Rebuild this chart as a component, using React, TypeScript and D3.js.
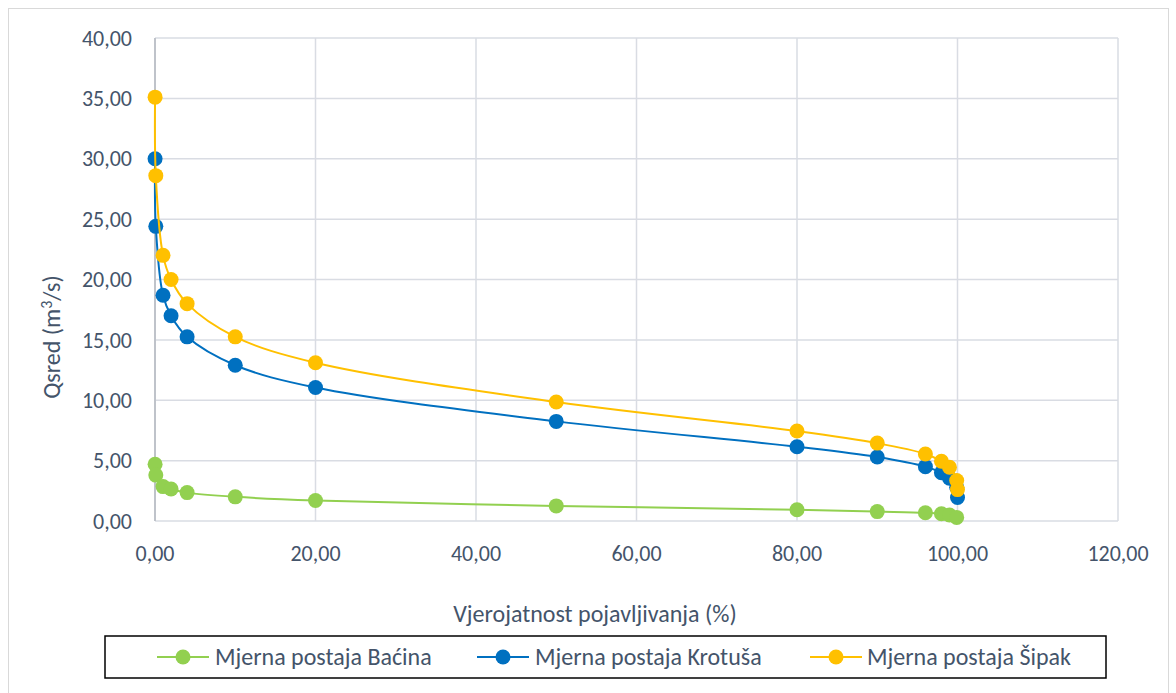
import React from "react";
import * as d3 from "d3";

const probX = [0.01, 0.1, 1, 2, 4, 10, 20, 50, 80, 90, 96, 98, 99, 99.9, 100];
const bacina = [4.7, 3.8, 2.85, 2.65, 2.35, 2.0, 1.7, 1.25, 0.93, 0.78, 0.68, 0.6, 0.5, 0.3];
const krotusa = [30.0, 24.4, 18.7, 17.0, 15.25, 12.9, 11.05, 8.25, 6.15, 5.3, 4.5, 4.0, 3.55, 2.8, 1.95];
const sipak = [35.1, 28.6, 22.0, 20.0, 18.0, 15.25, 13.1, 9.85, 7.45, 6.45, 5.55, 4.95, 4.45, 3.35, 2.6];

const xTicks = [0, 20, 40, 60, 80, 100, 120];
const yTicks = [0, 5, 10, 15, 20, 25, 30, 35, 40];

const seriesNames = ["Mjerna postaja Baćina", "Mjerna postaja Krotuša", "Mjerna postaja Šipak"];
const seriesColors = ["#92d050", "#0070c0", "#ffc000"];
const seriesValues = [bacina, krotusa, sipak];

const fmt = (v: number) => v.toFixed(2).replace(".", ",");

export default function App() {
  const W = 1176, H = 693;
  const left = 155, right = 1118, top = 38, bottom = 521;
  const x = d3.scaleLinear().domain([0, 120]).range([left, right]);
  const y = d3.scaleLinear().domain([0, 40]).range([bottom, top]);
  const font = "Carlito, Calibri, Lato, sans-serif";
  const textColor = "#44546a";

  const line = d3
    .line<[number, number]>()
    .x((d) => x(d[0]))
    .y((d) => y(d[1]))
    .curve(d3.curveCatmullRom.alpha(0.5));

  const legendItems = [
    { lx: 157, tx: 215 },
    { lx: 477, tx: 535 },
    { lx: 810, tx: 867 },
  ];

  return (
    <svg width={W} height={H} style={{ position: "absolute", left: 0, top: 0 }}>
      <rect x={8.5} y={8.5} width={1160} height={700} fill="#fff" stroke="#d9d9d9" />
      {yTicks.map((t) => (
        <line key={"gy" + t} x1={left} x2={right} y1={y(t)} y2={y(t)} stroke="#d9dce3" strokeWidth={1.5} />
      ))}
      {xTicks.map((t) => (
        <line key={"gx" + t} x1={x(t)} x2={x(t)} y1={top} y2={bottom} stroke="#d9dce3" strokeWidth={1.5} />
      ))}
      <line x1={left} x2={left} y1={top} y2={bottom} stroke="#bfc3ca" strokeWidth={2} />
      {yTicks.map((t) => (
        <text key={"ty" + t} x={132} y={y(t)} dy="0.35em" textAnchor="end" fontFamily={font} fontSize={22} fill={textColor}>
          {fmt(t)}
        </text>
      ))}
      {xTicks.map((t) => (
        <text key={"tx" + t} x={x(t)} y={553} dy="0.35em" textAnchor="middle" fontFamily={font} fontSize={22} fill={textColor}>
          {fmt(t)}
        </text>
      ))}
      <text x={595} y={622} textAnchor="middle" fontFamily={font} fontSize={24} fill={textColor}>
        Vjerojatnost pojavljivanja (%)
      </text>
      <text transform={`translate(52,337) rotate(-90)`} dy="0.35em" textAnchor="middle" fontFamily={font} fontSize={24} fill={textColor}>
        Qsred (m<tspan dy="-8" fontSize={16}>3</tspan><tspan dy="8">/s)</tspan>
      </text>
      {seriesValues.map((vals, i) => {
        const pts: [number, number][] = vals.map((v, j) => [probX[j], v]);
        return (
          <g key={"s" + i}>
            <path d={line(pts) || ""} fill="none" stroke={seriesColors[i]} strokeWidth={2} />
            {pts.map((p, j) => (
              <circle key={j} cx={x(p[0])} cy={y(p[1])} r={7.5} fill={seriesColors[i]} />
            ))}
          </g>
        );
      })}
      <rect x={105} y={636} width={1001} height={42} fill="#fff" stroke="#000" strokeWidth={1.5} />
      {legendItems.map((it, i) => (
        <g key={"l" + i}>
          <line x1={it.lx} x2={it.lx + 52} y1={657} y2={657} stroke={seriesColors[i]} strokeWidth={2} />
          <circle cx={it.lx + 26} cy={657} r={7.5} fill={seriesColors[i]} />
          <text x={it.tx} y={657} dy="0.35em" fontFamily={font} fontSize={24} fill={textColor}>
            {seriesNames[i]}
          </text>
        </g>
      ))}
    </svg>
  );
}
